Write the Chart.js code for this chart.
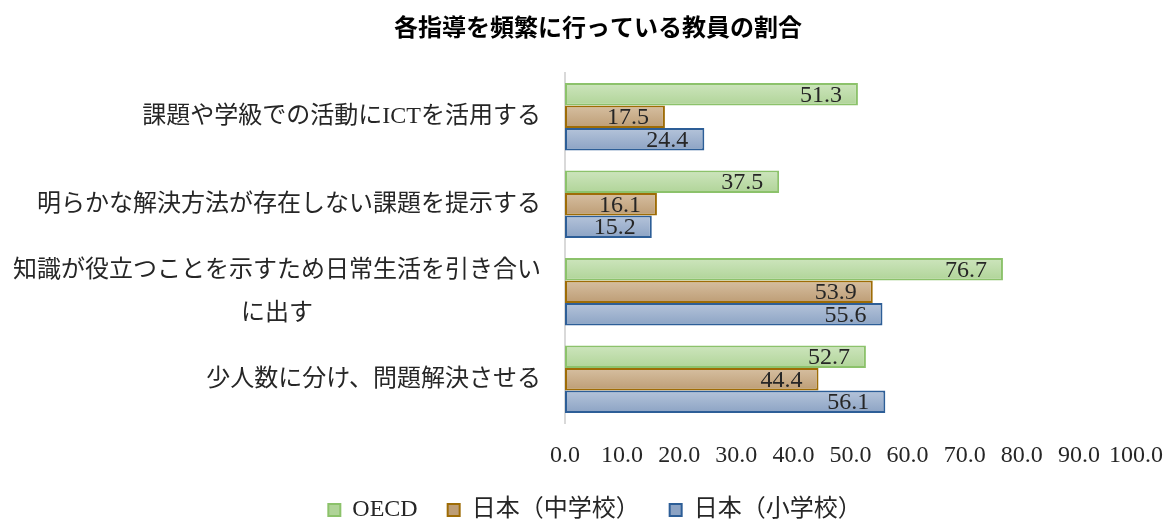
<!DOCTYPE html>
<html><head><meta charset="utf-8">
<script src="https://cdn.jsdelivr.net/npm/chart.js@4"></script>
<style>html,body{margin:0;padding:0;background:#fff;} #wrap{width:1166px;height:522px;position:relative;}</style>
</head><body><div id="wrap"><canvas id="c" width="1166" height="522"></canvas></div>
<script>
const chartTitle = "各指導を頻繁に行っている教員の割合";
const categories = [
  ["課題や学級での活動にICTを活用する"],
  ["明らかな解決方法が存在しない課題を提示する"],
  ["知識が役立つことを示すため日常生活を引き合い", "に出す"],
  ["少人数に分け、問題解決させる"]
];
const seriesNames = ["OECD", "日本（中学校）", "日本（小学校）"];
const oecdValues = [51.3, 37.5, 76.7, 52.7];
const juniorHighValues = [17.5, 16.1, 53.9, 44.4];
const elementaryValues = [24.4, 15.2, 55.6, 56.1];
const xTickLabels = ["0.0","10.0","20.0","30.0","40.0","50.0","60.0","70.0","80.0","90.0","100.0"];

const styles = [
  {top:'#cde5bd', mid:'#bedcaa', bottom:'#b0d498', border:'#8cc26b'},
  {top:'#d6bfa1', mid:'#c9ad89', bottom:'#bd9d75', border:'#9e6c06'},
  {top:'#b5c4da', mid:'#a1b4cf', bottom:'#8ca3c4', border:'#2d5e97'}
];
const serif = '"Liberation Serif", "Noto Sans CJK JP", serif';

function grad(ctx, i) {
  const s = styles[i];
  if (ctx.type !== 'data') return s.mid;
  const el = ctx.chart.getDatasetMeta(ctx.datasetIndex).data[ctx.dataIndex];
  if (!el || !el.height) return s.mid;
  const g = ctx.chart.ctx.createLinearGradient(0, el.y - el.height/2, 0, el.y + el.height/2);
  g.addColorStop(0, s.top); g.addColorStop(1, s.bottom);
  return g;
}

const allSeries = [oecdValues, juniorHighValues, elementaryValues];
const datasets = allSeries.map((vals, i) => ({
  label: seriesNames[i],
  data: vals,
  backgroundColor: (ctx) => grad(ctx, i),
  borderColor: styles[i].border,
  borderWidth: 2,
  borderSkipped: false,
  barPercentage: 1.0,
  categoryPercentage: 0.77
}));

const labelPlugin = {
  id: 'customText',
  afterDatasetsDraw(chart) {
    const c = chart.ctx;
    c.save();
    c.font = '24px ' + serif;
    c.fillStyle = '#262626';
    c.textAlign = 'right';
    c.textBaseline = 'middle';
    chart.data.datasets.forEach((ds, di) => {
      const meta = chart.getDatasetMeta(di);
      meta.data.forEach((el, i) => {
        c.fillText(ds.data[i].toFixed(1), el.x - 16, el.y + 1);
      });
    });
    c.restore();
  },
  afterDraw(chart) {
    const c = chart.ctx, ys = chart.scales.y;
    c.save();
    c.font = '24px ' + serif;
    c.fillStyle = '#262626';
    c.textAlign = 'center';
    c.textBaseline = 'middle';
    categories.forEach((lines, i) => {
      const y = ys.getPixelForValue(i);
      const w = Math.max(...lines.map(l => c.measureText(l).width));
      const cx = chart.chartArea.left - 24 - w / 2;
      lines.forEach((l, j) => c.fillText(l, cx, y + (j - (lines.length - 1) / 2) * 43));
    });
    c.font = 'bold 24px "Noto Sans CJK JP", sans-serif';
    c.fillStyle = '#000';
    c.fillText(chartTitle, 598, 27);
    c.restore();
  }
};

const chart = new Chart(document.getElementById('c'), {
  type: 'bar',
  data: { labels: categories.map(l => l.join('')), datasets },
  options: {
    indexAxis: 'y',
    responsive: false,
    animation: false,
    layout: { padding: { top: 73, right: 30, left: 54, bottom: -10 } },
    scales: {
      x: {
        min: 0, max: 100,
        ticks: { stepSize: 10, callback: (v, idx) => xTickLabels[idx], font: { family: serif, size: 24 }, color: '#262626', padding: 18, maxRotation: 0 },
        grid: { display: false, drawTicks: false },
        border: { display: false },
        afterFit(s) { s.height = 45; s.paddingRight = 0; s.paddingLeft = 0; }
      },
      y: {
        ticks: { display: false },
        grid: { display: false, drawTicks: false },
        border: { display: true, color: '#d9d9d9', width: 2 },
        afterFit(s) { s.width = 511; }
      }
    },
    plugins: {
      legend: {
        position: 'bottom',
        labels: { boxWidth: 12, boxHeight: 12, padding: 30, color: '#262626', font: { family: serif, size: 24 } }
      },
      title: { display: false },
      tooltip: { enabled: false }
    }
  },
  plugins: [labelPlugin]
});
chart.update('none');
</script>
</body></html>
